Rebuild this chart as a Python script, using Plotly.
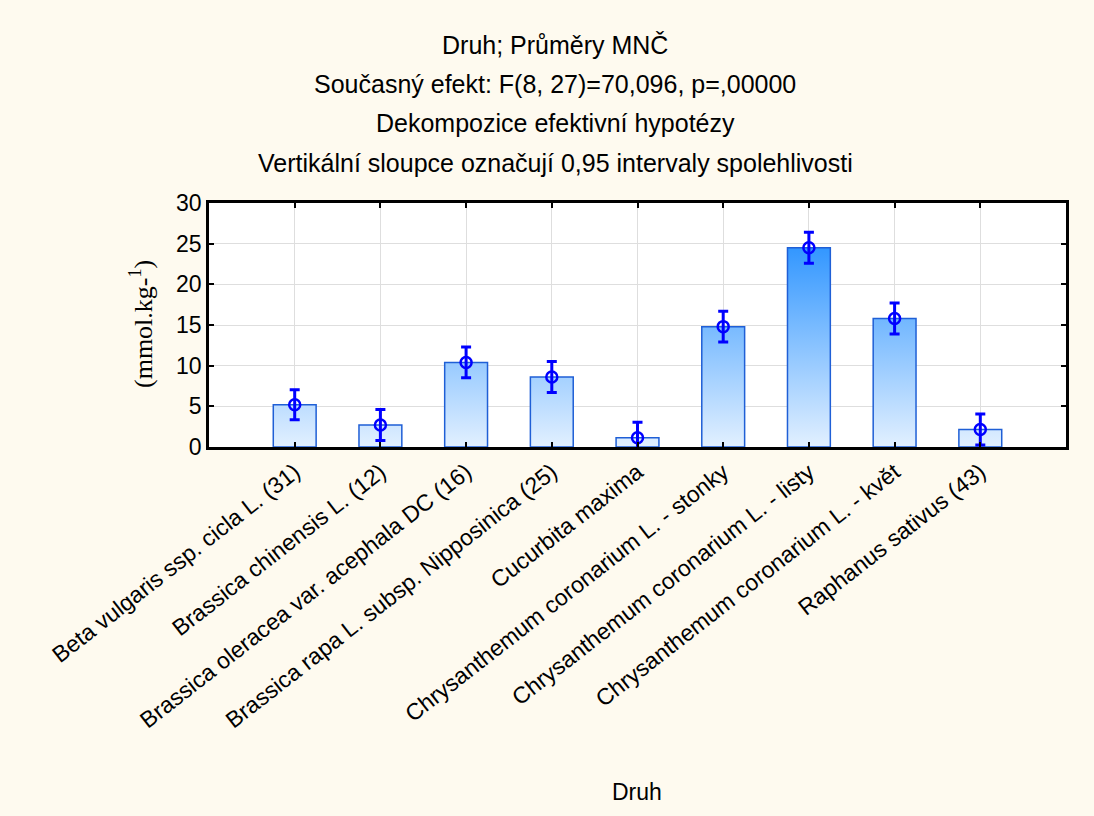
import plotly.graph_objects as go

# ---- data ----
categories = [
    "Beta vulgaris ssp. cicla L. (31)",
    "Brassica chinensis L. (12)",
    "Brassica oleracea var. acephala DC (16)",
    "Brassica rapa L. subsp. Nipposinica (25)",
    "Cucurbita maxima",
    "Chrysanthemum coronarium L. - stonky",
    "Chrysanthemum coronarium L. - listy",
    "Chrysanthemum coronarium L. - květ",
    "Raphanus sativus (43)",
]
means = [5.2, 2.7, 10.4, 8.6, 1.15, 14.8, 24.5, 15.8, 2.15]
ci_half = [1.85, 1.9, 1.9, 1.9, 1.9, 1.9, 1.9, 1.9, 1.9]
y_ticks = [0, 5, 10, 15, 20, 25, 30]

title_lines = [
    "Druh; Průměry MNČ",
    "Současný efekt: F(8, 27)=70,096, p=,00000",
    "Dekompozice efektivní hypotézy",
    "Vertikální sloupce označují 0,95 intervaly spolehlivosti",
]
x_title = "Druh"
y_title = "(mmol.kg-<sup>1</sup>)"

# ---- layout geometry (pixels) ----
W, H = 1094, 816
L, R, T, B = 209, 1066, 203, 447
PW, PH = R - L, B - T
BAR_W = 0.5

def px_to_paper_x(px):
    return (px - L) / PW

def px_to_paper_y(py):
    return (B - py) / PH

xs = list(range(len(categories)))

# bars as polygons with a vertical gradient shared across all bars
bx, by = [], []
for i, v in zip(xs, means):
    x0, x1 = i - BAR_W / 2, i + BAR_W / 2
    bx += [x0, x0, x1, x1, x0, None]
    by += [0, v, v, 0, 0, None]

fig = go.Figure()
fig.add_trace(go.Scatter(
    x=bx, y=by, mode="lines", fill="toself",
    line=dict(color="#1f5fd6", width=1.5),
    fillgradient=dict(type="vertical",
                      colorscale=[[0, "#e2f0ff"], [1, "#2f95ff"]],
                      start=0, stop=25),
    hoverinfo="skip", showlegend=False,
))
fig.add_trace(go.Scatter(
    x=xs, y=means, mode="markers",
    marker=dict(symbol="circle-open", size=11, color="#0000ff",
                line=dict(width=2.5, color="#0000ff")),
    error_y=dict(type="data", array=ci_half, symmetric=True,
                 color="#0000ff", thickness=3, width=5),
    showlegend=False, hoverinfo="skip",
))

annotations = []
line_y = [45, 84, 123, 163]
for txt, py in zip(title_lines, line_y):
    annotations.append(dict(
        text=txt, xref="paper", yref="paper",
        x=px_to_paper_x(555), y=px_to_paper_y(py),
        xanchor="center", yanchor="middle", showarrow=False,
        font=dict(family="Liberation Sans, Arial", size=25, color="#000000"),
    ))
annotations.append(dict(
    text=x_title, xref="paper", yref="paper",
    x=px_to_paper_x(637), y=px_to_paper_y(792),
    xanchor="center", yanchor="middle", showarrow=False,
    font=dict(family="Liberation Sans, Arial", size=23, color="#000000"),
))
annotations.append(dict(
    text=y_title, xref="paper", yref="paper",
    x=px_to_paper_x(141), y=px_to_paper_y(324),
    xanchor="center", yanchor="middle", showarrow=False, textangle=-90,
    font=dict(family="Liberation Serif, Times New Roman", size=26, color="#000000"),
))

fig.update_layout(
    width=W, height=H,
    margin=dict(l=L, r=W - R, t=T, b=H - B, autoexpand=False),
    paper_bgcolor="#fefaef",
    plot_bgcolor="#ffffff",
    annotations=annotations,
    showlegend=False,
)
fig.update_xaxes(
    range=[-1, len(categories)],
    tickvals=xs, ticktext=categories, tickangle=-38,
    tickfont=dict(family="Liberation Sans, Arial", size=23, color="#000000"),
    showgrid=True, gridcolor="#dedede", gridwidth=1,
    showline=True, linecolor="#000000", linewidth=2.5, mirror="ticks",
    ticks="inside", ticklen=5, tickwidth=2, tickcolor="#000000",
    zeroline=False, automargin=False,
)
fig.update_yaxes(
    range=[0, 30], tickvals=y_ticks,
    tickfont=dict(family="Liberation Sans, Arial", size=23, color="#000000"),
    showgrid=True, gridcolor="#dedede", gridwidth=1,
    showline=True, linecolor="#000000", linewidth=2.5, mirror="ticks",
    ticks="inside", ticklen=5, tickwidth=2, tickcolor="#000000",
    zeroline=False, automargin=False,
)

fig.write_html(
    "out.html",
    config={"displayModeBar": False},
    post_script="document.body.style.margin='0px';"
                "document.body.style.background='#fefaef';",
)
